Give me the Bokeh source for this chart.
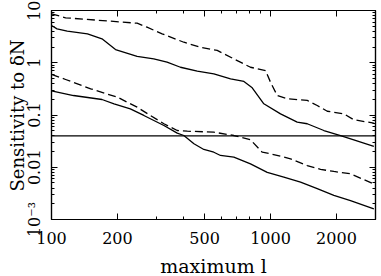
import math
from bokeh.plotting import figure
from bokeh.models import (FixedTicker, CustomJSTickFormatter, LogAxis, Span, Range1d, Label)
from bokeh.embed import file_html
from bokeh.resources import INLINE

# ---- data ----
upper_dashed_l = [100, 116, 246, 273, 320, 402, 479, 571, 705, 810, 949, 1000, 1073, 1192, 1471, 1634, 1816, 2163, 2400, 2963]
upper_dashed_v = [8.65, 7.25, 5.71, 4.79, 3.58, 2.47, 1.98, 1.72, 1.10, 0.82, 0.71, 0.424, 0.236, 0.204, 0.19, 0.152, 0.118, 0.105, 0.081, 0.070]

upper_solid_l = [100, 106, 118, 146, 170, 196, 246, 293, 337, 388, 463, 551, 657, 756, 825, 932, 1111, 1324, 1471, 1752, 2087, 2400, 2963]
upper_solid_v = [5.16, 4.46, 4.02, 3.58, 2.87, 1.79, 1.32, 1.19, 1.03, 0.82, 0.69, 0.615, 0.493, 0.438, 0.332, 0.164, 0.105, 0.073, 0.068, 0.0505, 0.0405, 0.0335, 0.025]

lower_dashed_l = [100, 116, 151, 200, 246, 283, 326, 375, 417, 551, 680, 810, 917, 1000, 1234, 1471, 1692, 1946, 2318, 2963]
lower_dashed_v = [0.6, 0.478, 0.317, 0.219, 0.141, 0.0977, 0.068, 0.0505, 0.049, 0.0469, 0.0405, 0.0335, 0.0194, 0.0181, 0.0145, 0.0108, 0.0091, 0.0083, 0.0075, 0.0048]

lower_solid_l = [100, 126, 170, 193, 229, 264, 326, 375, 402, 447, 496, 551, 591, 680, 810, 966, 1150, 1371, 1634, 1946, 2318, 2963]
lower_solid_v = [0.29, 0.236, 0.198, 0.164, 0.131, 0.098, 0.063, 0.0449, 0.0405, 0.0281, 0.0219, 0.0194, 0.0168, 0.0156, 0.0116, 0.0080, 0.0065, 0.0052, 0.0039, 0.0029, 0.0023, 0.0016]

threshold = 0.04

x_major = [100, 200, 500, 1000, 2000]
x_minor = [300, 400, 600, 700, 800, 900, 3000]
y_major = [0.001, 0.01, 0.1, 1, 10]
y_minor = [m * d for d in [0.001, 0.01, 0.1, 1] for m in range(2, 10)]

x_title = "maximum l"
y_title = "Sensitivity to \u03b4N"

FONT = "DejaVu Serif"

p = figure(frame_width=324, frame_height=209, x_axis_type="log", y_axis_type="log",
           x_range=Range1d(100, 3015), y_range=Range1d(0.001, 10),
           output_backend="svg", toolbar_location=None,
           min_border_left=51, min_border_right=6, min_border_top=10, min_border_bottom=57)
p.grid.visible = False
p.outline_line_color = "black"
p.outline_line_width = 1.2
p.background_fill_color = "white"
p.border_fill_color = "white"

xfmt = CustomJSTickFormatter(code="return tick.toString();")
yfmt = CustomJSTickFormatter(code="if (Math.abs(tick - 0.001) < 1e-9) { return '10\u207b\u00b3'; } return tick.toString();")

xa = p.xaxis[0]
xa.ticker = FixedTicker(ticks=x_major, minor_ticks=x_minor)
xa.formatter = xfmt
ya = p.yaxis[0]
ya.ticker = FixedTicker(ticks=y_major, minor_ticks=y_minor)
ya.formatter = yfmt
for ax in (xa, ya):
    ax.axis_line_color = "black"
    ax.axis_line_width = 1.2
    ax.major_tick_in = 6
    ax.major_tick_out = 0
    ax.minor_tick_in = 3
    ax.minor_tick_out = 0
    ax.major_label_text_font = FONT
    ax.major_label_text_font_size = "16px"
    ax.major_label_text_color = "black"

xa.major_label_standoff = 12
ya.major_label_orientation = "parallel"
ya.major_label_standoff = 8

# mirrored axes (ticks only)
top = LogAxis(ticker=FixedTicker(ticks=x_major, minor_ticks=x_minor))
right = LogAxis(ticker=FixedTicker(ticks=y_major, minor_ticks=y_minor))
for ax in (top, right):
    ax.axis_line_color = "black"
    ax.axis_line_width = 1.2
    ax.major_tick_in = 6
    ax.major_tick_out = 0
    ax.minor_tick_in = 3
    ax.minor_tick_out = 0
    ax.major_label_text_font_size = "0px"
    ax.major_label_standoff = 0
    ax.formatter = CustomJSTickFormatter(code="return '';")
p.add_layout(top, "above")
p.add_layout(right, "right")

# axis titles as labels in the side panels
p.add_layout(Label(x=162, y=3, x_units="screen", y_units="screen", text=x_title,
                   text_font=FONT, text_font_size="19px", text_color="black",
                   text_align="center", text_baseline="alphabetic"), "below")
p.add_layout(Label(x=17, y=104, x_units="screen", y_units="screen", text=y_title,
                   angle=math.pi / 2, text_font=FONT, text_font_size="18px", text_color="black",
                   text_align="center", text_baseline="alphabetic"), "left")

p.add_layout(Span(location=threshold, dimension="width", line_color="black", line_width=1.2))

p.line(upper_dashed_l, upper_dashed_v, line_color="black", line_width=1.3, line_dash="8 4")
p.line(upper_solid_l, upper_solid_v, line_color="black", line_width=1.3)
p.line(lower_dashed_l, lower_dashed_v, line_color="black", line_width=1.3, line_dash="8 4")
p.line(lower_solid_l, lower_solid_v, line_color="black", line_width=1.3)

with open("out.html", "w", encoding="utf-8") as f:
    f.write(file_html(p, INLINE))
